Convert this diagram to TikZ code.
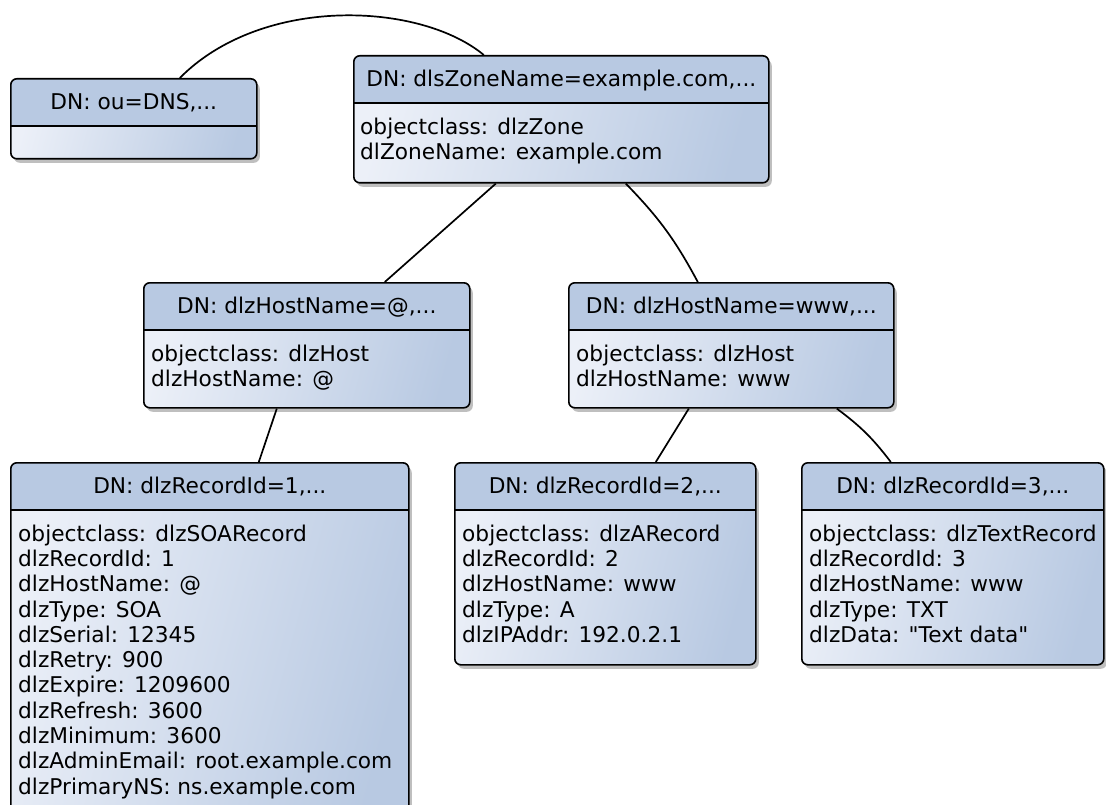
\documentclass[tikz,border=0pt]{standalone}
\usepackage{fontspec}
\setmainfont{DejaVu Sans}[Ligatures=TeXOff]
\usetikzlibrary{shadows,calc}
\definecolor{hdr}{RGB}{184,201,226}
\definecolor{bodyl}{RGB}{236,240,248}
\tikzset{
  entry/.style={draw=black, line width=1.6pt, rounded corners=6pt, inner sep=0pt,
    anchor=north west, left color=bodyl, right color=hdr, shading angle=75,
    drop shadow={shadow xshift=3pt, shadow yshift=-4pt, opacity=0.25, fill=black},
    path picture={
      \fill[hdr, sharp corners] (path picture bounding box.north west) rectangle ([yshift=-47pt]path picture bounding box.north east);
      \draw[line width=1.6pt, sharp corners] ([yshift=-47pt]path picture bounding box.north west) -- ([yshift=-47pt]path picture bounding box.north east);
    }},
  hdrtext/.style={anchor=base, inner sep=0pt, font=\fontsize{21.7}{25.3}\selectfont},
  bodytext/.style={anchor=north west, inner sep=0pt, align=left, font=\fontsize{21.7}{25.3}\selectfont},
  link/.style={draw=black, line width=1.7pt}
}
\begin{document}
\begin{tikzpicture}[x=1pt, y=-1pt]
\useasboundingbox (0,0) rectangle (1106,805);
% boxes
\node[entry, minimum width=246pt, minimum height=80pt] (A) at (10,78) {};
\node[entry, minimum width=415pt, minimum height=127pt] (B) at (353,55) {};
\node[entry, minimum width=326pt, minimum height=125pt] (C) at (143,282) {};
\node[entry, minimum width=325pt, minimum height=125pt] (D) at (568,282) {};
\node[entry, minimum width=398pt, minimum height=352pt] (E) at (10,462) {};
\node[entry, minimum width=301pt, minimum height=202pt] (F) at (454,462) {};
\node[entry, minimum width=302pt, minimum height=202pt] (G) at (801,462) {};
% header texts
\node[hdrtext] (At) at ([yshift=-31.5pt]A.north) {DN: ou=DNS,...};
\node[hdrtext] (Bt) at ([yshift=-31.5pt]B.north) {DN: dlsZoneName=example.com,...};
\node[hdrtext] (Ct) at ([yshift=-31.5pt]C.north) {DN: dlzHostName=@,...};
\node[hdrtext] (Dt) at ([yshift=-31.5pt]D.north) {DN: dlzHostName=www,...};
\node[hdrtext] (Et) at ([yshift=-31.5pt]E.north) {DN: dlzRecordId=1,...};
\node[hdrtext] (Ft) at ([yshift=-31.5pt]F.north) {DN: dlzRecordId=2,...};
\node[hdrtext] (Gt) at ([yshift=-31.5pt]G.north) {DN: dlzRecordId=3,...};
% body texts
\node[bodytext] (Bb) at ([xshift=7pt, yshift=-62.5pt]B.north west) {objectclass: dlzZone\\dlZoneName: example.com};
\node[bodytext] (Cb) at ([xshift=8pt, yshift=-62.5pt]C.north west) {objectclass: dlzHost\\dlzHostName: @};
\node[bodytext] (Db) at ([xshift=8pt, yshift=-62.5pt]D.north west) {objectclass: dlzHost\\dlzHostName: www};
\node[bodytext] (Eb) at ([xshift=8pt, yshift=-62.5pt]E.north west) {objectclass: dlzSOARecord\\dlzRecordId: 1\\dlzHostName: @\\dlzType: SOA\\dlzSerial: 12345\\dlzRetry: 900\\dlzExpire: 1209600\\dlzRefresh: 3600\\dlzMinimum: 3600\\dlzAdminEmail: root.example.com\\dlzPrimaryNS: ns.example.com};
\node[bodytext] (Fb) at ([xshift=8pt, yshift=-62.5pt]F.north west) {objectclass: dlzARecord\\dlzRecordId: 2\\dlzHostName: www\\dlzType: A\\dlzIPAddr: 192.0.2.1};
\node[bodytext] (Gb) at ([xshift=8pt, yshift=-62.5pt]G.north west) {objectclass: dlzTextRecord\\dlzRecordId: 3\\dlzHostName: www\\dlzType: TXT\\dlzData: "Text data"};
% connectors
\draw[link] ([xshift=46pt]A.north) .. controls (262,-5) and (420,2) .. ([xshift=-77.5pt]B.north);
\draw[link] ([xshift=-65.5pt]B.south) -- ([xshift=78pt]C.north);
\draw[link] ([xshift=64.5pt]B.south) to[bend left=8] ([xshift=-33.5pt]D.north);
\draw[link] ([xshift=-30pt]C.south) -- ([xshift=49pt]E.north);
\draw[link] ([xshift=-42.5pt]D.south) -- ([xshift=50.5pt]F.north);
\draw[link] ([xshift=105.5pt]D.south) to[bend left=8] ([xshift=-62pt]G.north);
\end{tikzpicture}
\end{document}
